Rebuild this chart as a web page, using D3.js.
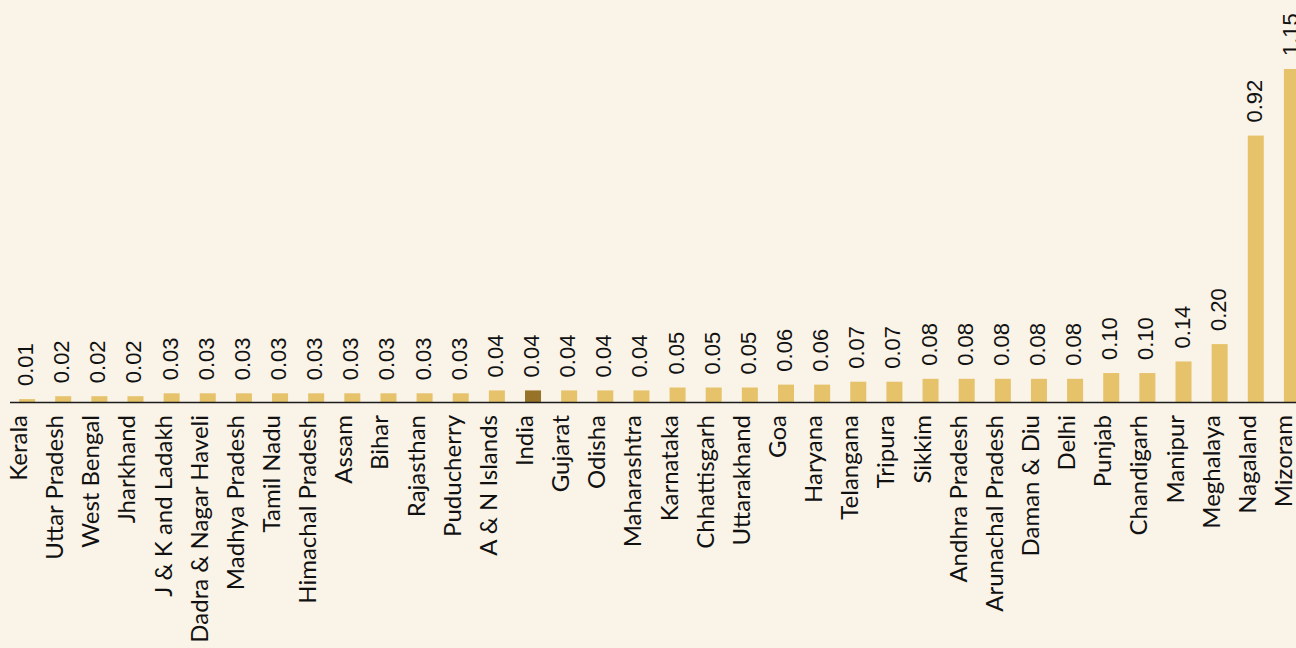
<!DOCTYPE html>
<html>
<head>
<meta charset="utf-8">
<script src="https://cdn.jsdelivr.net/npm/d3@7"></script>
<style>
  html, body { margin: 0; padding: 0; background: #f9f3e8; }
  svg { display: block; }
</style>
</head>
<body>
<svg id="chart" width="1296" height="648"></svg>
<script>
// States and union territories, sorted by value
const categories = [
  "Kerala", "Uttar Pradesh", "West Bengal", "Jharkhand", "J & K and Ladakh",
  "Dadra & Nagar Haveli", "Madhya Pradesh", "Tamil Nadu", "Himachal Pradesh",
  "Assam", "Bihar", "Rajasthan", "Puducherry", "A & N Islands", "India",
  "Gujarat", "Odisha", "Maharashtra", "Karnataka", "Chhattisgarh", "Uttarakhand",
  "Goa", "Haryana", "Telangana", "Tripura", "Sikkim", "Andhra Pradesh",
  "Arunachal Pradesh", "Daman & Diu", "Delhi", "Punjab", "Chandigarh",
  "Manipur", "Meghalaya", "Nagaland", "Mizoram"
];
const values = [
  0.01, 0.02, 0.02, 0.02, 0.03,
  0.03, 0.03, 0.03, 0.03,
  0.03, 0.03, 0.03, 0.03, 0.04, 0.04,
  0.04, 0.04, 0.04, 0.05, 0.05, 0.05,
  0.06, 0.06, 0.07, 0.07, 0.08, 0.08,
  0.08, 0.08, 0.08, 0.10, 0.10,
  0.14, 0.20, 0.92, 1.15
];
const highlight = "India";

const W = 1296, H = 648;
const baseY = 402;

const svg = d3.select("#chart");
svg.append("rect").attr("width", W).attr("height", H).attr("fill", "#f9f3e8");

const data = categories.map((c, i) => ({ name: c, value: values[i] }));

const x = d3.scaleBand()
  .domain(categories)
  .range([1, 1318])
  .paddingInner(0.557)
  .paddingOuter(0.5);

const y = d3.scaleLinear()
  .domain([0, 1.15])
  .range([baseY, 69]);

// bars
svg.append("g").selectAll("rect")
  .data(data)
  .join("rect")
  .attr("x", d => x(d.name))
  .attr("width", x.bandwidth())
  .attr("y", d => y(d.value))
  .attr("height", d => baseY - y(d.value))
  .attr("fill", d => d.name === highlight ? "#977329" : "#e6c36a");

// baseline
svg.append("line")
  .attr("x1", 10).attr("x2", W)
  .attr("y1", baseY + 0.5).attr("y2", baseY + 0.5)
  .attr("stroke", "#1c1c1c")
  .attr("stroke-width", 1.6);

const fmt = d3.format(".2f");

// value labels above bars
svg.append("g").selectAll("text")
  .data(data)
  .join("text")
  .attr("transform", d => `translate(${x(d.name) + x.bandwidth() / 2 + 6},${y(d.value) - 13}) rotate(-90)`)
  .attr("text-anchor", "start")
  .attr("font-family", "'Liberation Sans', Arial, sans-serif")
  .attr("font-size", 22)
  .attr("fill", "#111")
  .text(d => fmt(d.value));

// category labels below baseline
svg.append("g").selectAll("text")
  .data(data)
  .join("text")
  .attr("transform", d => `translate(${x(d.name) + x.bandwidth() / 2},415) rotate(-90)`)
  .attr("text-anchor", "end")
  .attr("font-family", "Lato, 'Noto Sans', sans-serif")
  .attr("font-size", 24)
  .attr("fill", "#111")
  .text(d => d.name);
</script>
</body>
</html>
